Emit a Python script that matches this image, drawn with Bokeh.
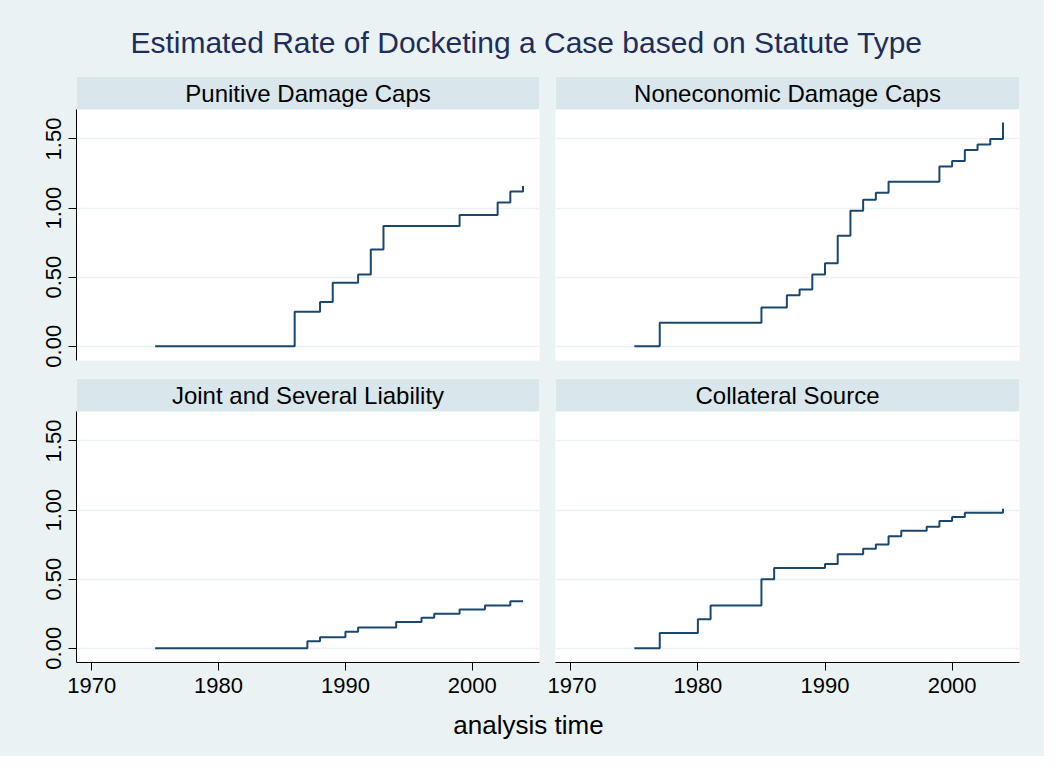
from bokeh.plotting import figure
from bokeh.layouts import column, row
from bokeh.models import Range1d, FixedTicker, Grid
from bokeh.core.properties import value
from bokeh.embed import file_html
from bokeh.resources import INLINE

# ---------------- data ----------------
title_text = "Estimated Rate of Docketing a Case based on Statute Type"
panel_names = ["Punitive Damage Caps", "Noneconomic Damage Caps",
               "Joint and Several Liability", "Collateral Source"]
x_title = "analysis time"

punitive_years = [1975, 1986, 1988, 1989, 1991, 1992, 1993, 1999, 2002, 2003, 2004]
punitive_rate = [0.00, 0.25, 0.32, 0.46, 0.52, 0.70, 0.87, 0.95, 1.04, 1.12, 1.16]

noneco_years = [1975, 1977, 1985, 1987, 1988, 1989, 1990, 1991, 1992, 1993, 1994,
                1995, 1999, 2000, 2001, 2002, 2003, 2004]
noneco_rate = [0.00, 0.17, 0.28, 0.37, 0.41, 0.52, 0.60, 0.80, 0.98, 1.06, 1.11,
               1.19, 1.30, 1.34, 1.42, 1.46, 1.50, 1.62]

joint_years = [1975, 1987, 1988, 1990, 1991, 1994, 1996, 1997, 1999, 2001, 2003, 2004]
joint_rate = [0.00, 0.05, 0.08, 0.12, 0.15, 0.19, 0.22, 0.25, 0.28, 0.31, 0.34, 0.34]

collat_years = [1975, 1977, 1980, 1981, 1985, 1986, 1990, 1991, 1993, 1994, 1995,
                1996, 1998, 1999, 2000, 2001, 2004]
collat_rate = [0.00, 0.11, 0.21, 0.31, 0.50, 0.58, 0.61, 0.68, 0.72, 0.75, 0.81,
               0.85, 0.88, 0.92, 0.95, 0.98, 1.01]

x_ticks = [1970, 1980, 1990, 2000]
x_tick_labels = ["1970", "1980", "1990", "2000"]
y_ticks = [0.0, 0.5, 1.0, 1.5]
y_tick_labels = ["0.00", "0.50", "1.00", "1.50"]

# ---------------- style ----------------
BG = "#EAF2F3"
STRIP = "#D9E6EB"
LINE = "#1a476f"
TITLE_COLOR = "#1e2d5c"
FONT = "Liberation Sans"

X_START, X_END = 1968.8, 2005.3
Y_MIN, Y_MAX = -0.103, 1.952
STRIP_BOTTOM = 1.713

FRAME_H = 284
LEFT_W, RIGHT_W = 547, 497


def panel(name, xs, ys, left, bottom):
    w = LEFT_W if left else RIGHT_W
    mb_left = 76 if left else 8
    mb_right = 8 if left else 25
    mb_top = 0 if not bottom else 9
    mb_bottom = 42 if bottom else 9
    h = FRAME_H + mb_top + mb_bottom
    p = figure(width=w, height=h, output_backend="svg", toolbar_location=None,
               x_range=Range1d(X_START, X_END), y_range=Range1d(Y_MIN, Y_MAX),
               x_axis_type="linear" if bottom else None,
               y_axis_type="linear" if left else None,
               min_border_left=mb_left, min_border_right=mb_right,
               min_border_top=mb_top, min_border_bottom=mb_bottom)
    p.background_fill_color = "white"
    p.border_fill_color = BG
    p.outline_line_color = None
    p.grid.visible = False
    p.add_layout(Grid(dimension=1, ticker=FixedTicker(ticks=y_ticks),
                      grid_line_color=BG, grid_line_width=1.5))
    # header strip
    p.quad(left=X_START, right=X_END, bottom=STRIP_BOTTOM, top=Y_MAX,
           fill_color=STRIP, line_color=None)
    p.text(x=[(X_START + X_END) / 2], y=[(STRIP_BOTTOM + Y_MAX) / 2], text=[name],
           text_align="center", text_baseline="middle",
           text_font=value(FONT), text_font_size="24px", text_color="black")
    p.step(xs, ys, mode="after", line_color=LINE, line_width=2)
    if left:
        ax = p.yaxis[0]
        ax.ticker = FixedTicker(ticks=y_ticks)
        ax.major_label_overrides = dict(zip(y_ticks, y_tick_labels))
        ax.major_label_orientation = "vertical"
        ax.bounds = (Y_MIN, STRIP_BOTTOM)
    if bottom:
        ax = p.xaxis[0]
        ax.ticker = FixedTicker(ticks=x_ticks)
        ax.major_label_overrides = dict(zip(x_ticks, x_tick_labels))
    for a in p.axis:
        a.axis_line_color = "black"
        a.axis_line_width = 1
        a.major_tick_line_color = "black"
        a.major_tick_out = 8
        a.major_tick_in = 0
        a.minor_tick_line_color = None
        a.major_label_text_font = FONT
        a.major_label_text_font_size = "22px"
        a.major_label_text_color = "black"
        a.major_label_standoff = 7
    return p


def text_fig(txt, w, h, x, y, size, color):
    p = figure(width=w, height=h, output_backend="svg", toolbar_location=None,
               x_range=Range1d(0, w), y_range=Range1d(0, h),
               x_axis_type=None, y_axis_type=None,
               min_border_left=0, min_border_right=0, min_border_top=0, min_border_bottom=0)
    p.background_fill_color = BG
    p.border_fill_color = BG
    p.outline_line_color = None
    p.grid.visible = False
    p.text(x=[x], y=[y], text=[txt], text_align="center", text_baseline="middle",
           text_font=value(FONT), text_font_size=size, text_color=color)
    return p


title_fig = text_fig(title_text, 1044, 76, 526, 34, "30px", TITLE_COLOR)
p1 = panel(panel_names[0], punitive_years, punitive_rate, True, False)
p2 = panel(panel_names[1], noneco_years, noneco_rate, False, False)
p3 = panel(panel_names[2], joint_years, joint_rate, True, True)
p4 = panel(panel_names[3], collat_years, collat_rate, False, True)
xt_fig = text_fig(x_title, 1044, 52, 528, 32, "26px", "black")

bgstyle = {"background-color": BG}
layout = column(title_fig,
                row(p1, p2, styles=bgstyle),
                row(p3, p4, styles=bgstyle),
                xt_fig, styles=bgstyle)

open("out.html", "w").write(file_html(layout, INLINE))
